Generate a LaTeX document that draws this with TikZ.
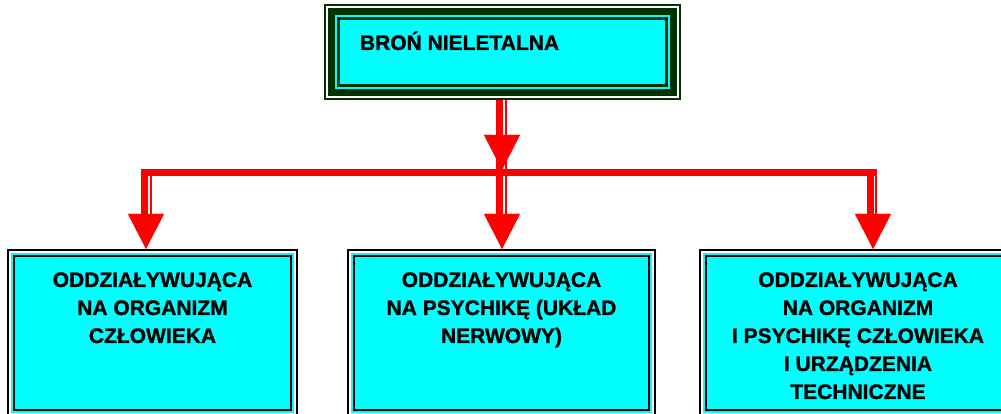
\documentclass[tikz,border=0pt]{standalone}
\usepackage{fontspec}
\setmainfont{Liberation Sans}[BoldFeatures={FakeBold=1.2}]
\usetikzlibrary{arrows.meta,backgrounds}
\definecolor{aqua}{RGB}{0,255,255}
\definecolor{dkgreen}{RGB}{0,51,0}
\definecolor{arrred}{RGB}{255,0,0}
\tikzset{
  boxfont/.style={font=\bfseries\fontsize{21}{28}\selectfont},
  topbox/.style={boxfont, draw=dkgreen, line width=2pt, fill=white, inner sep=0pt,
    path picture={
      \draw[dkgreen, line width=7pt]
        ([shift={(6.5pt,-6.5pt)}]path picture bounding box.north west) rectangle
        ([shift={(-6.5pt,6.5pt)}]path picture bounding box.south east);
      \fill[aqua]
        ([shift={(10pt,-10pt)}]path picture bounding box.north west) rectangle
        ([shift={(-10pt,10pt)}]path picture bounding box.south east);
      \draw[dkgreen, line width=3pt]
        ([shift={(13.5pt,-13.5pt)}]path picture bounding box.north west) rectangle
        ([shift={(-13.5pt,13.5pt)}]path picture bounding box.south east);
    }},
  lowbox/.style={boxfont, draw=black, line width=2pt, fill=white, inner sep=0pt,
    path picture={
      \fill[aqua]
        ([shift={(3pt,-3pt)}]path picture bounding box.north west) rectangle
        ([shift={(-3pt,3pt)}]path picture bounding box.south east);
      \draw[black, line width=2pt]
        ([shift={(6pt,-6pt)}]path picture bounding box.north west) rectangle
        ([shift={(-6pt,6pt)}]path picture bounding box.south east);
    }},
  thickred/.style={draw=arrred, line width=7pt, line join=miter},
  thinred/.style={draw=arrred, line width=2pt},
  headred/.style={draw=arrred, fill=arrred, line width=0.01pt,
    -{Triangle[length=35pt,width=36pt]}}
}
\newcommand{\lowtext}[2]{\parbox[c][166pt][t]{#1}{\centering\rule{0pt}{37pt}#2}}
\begin{document}
\begin{tikzpicture}[x=1pt,y=1pt]
\useasboundingbox (0,0) rectangle (1001,414);
\clip (0,0) rectangle (1001,414);

\node[topbox] (top) at (502.5,362)
  {\parbox[c][94pt][t]{355pt}{\raggedright\hspace*{35pt}\rule{0pt}{45pt}BROŃ NIELETALNA}};

\node[lowbox] (b1) at (152.5,81)
  {\lowtext{289pt}{ODDZIAŁYWUJĄCA\\NA ORGANIZM\\CZŁOWIEKA}};
\node[lowbox] (b2) at (501.5,81)
  {\lowtext{307pt}{ODDZIAŁYWUJĄCA\\NA PSYCHIKĘ (UKŁAD\\NERWOWY)}};
\node[lowbox] (b3) at (858,81)
  {\lowtext{316pt}{ODDZIAŁYWUJĄCA\\NA ORGANIZM\\I PSYCHIKĘ CZŁOWIEKA\\I URZĄDZENIA\\TECHNICZNE}};

\coordinate (hr) at (877,241.5);
\coordinate (am1) at (502,279);
\coordinate (al) at (146,199);
\coordinate (am) at (502,199);
\coordinate (ar) at (873,199);

\begin{scope}[on background layer]
  % trunk from the top box
  \draw[thickred] ([xshift=-3pt]top.south) -- ([xshift=-2.5pt]am);
  \draw[thinred] ([xshift=3.5pt]top.south) -- ([xshift=4pt]am);
  % horizontal bar with left branch
  \draw[thickred] ([xshift=-1.5pt]al) |- (hr);
  \draw[thinred] ([xshift=5pt]al) -- ++(0,39);
  % right branch
  \draw[thickred] ([xshift=-2.5pt]ar) -- ++(0,46);
  \draw[thinred] ([xshift=3pt]ar) -- ++(0,46);
\end{scope}
% arrowheads
\draw[headred] (am1) -- ++(0,-35);
\draw[headred] (al) -- (al |- b1.north);
\draw[headred] (am) -- (am |- b2.north);
\draw[headred] (ar) -- (ar |- b3.north);
\end{tikzpicture}
\end{document}
